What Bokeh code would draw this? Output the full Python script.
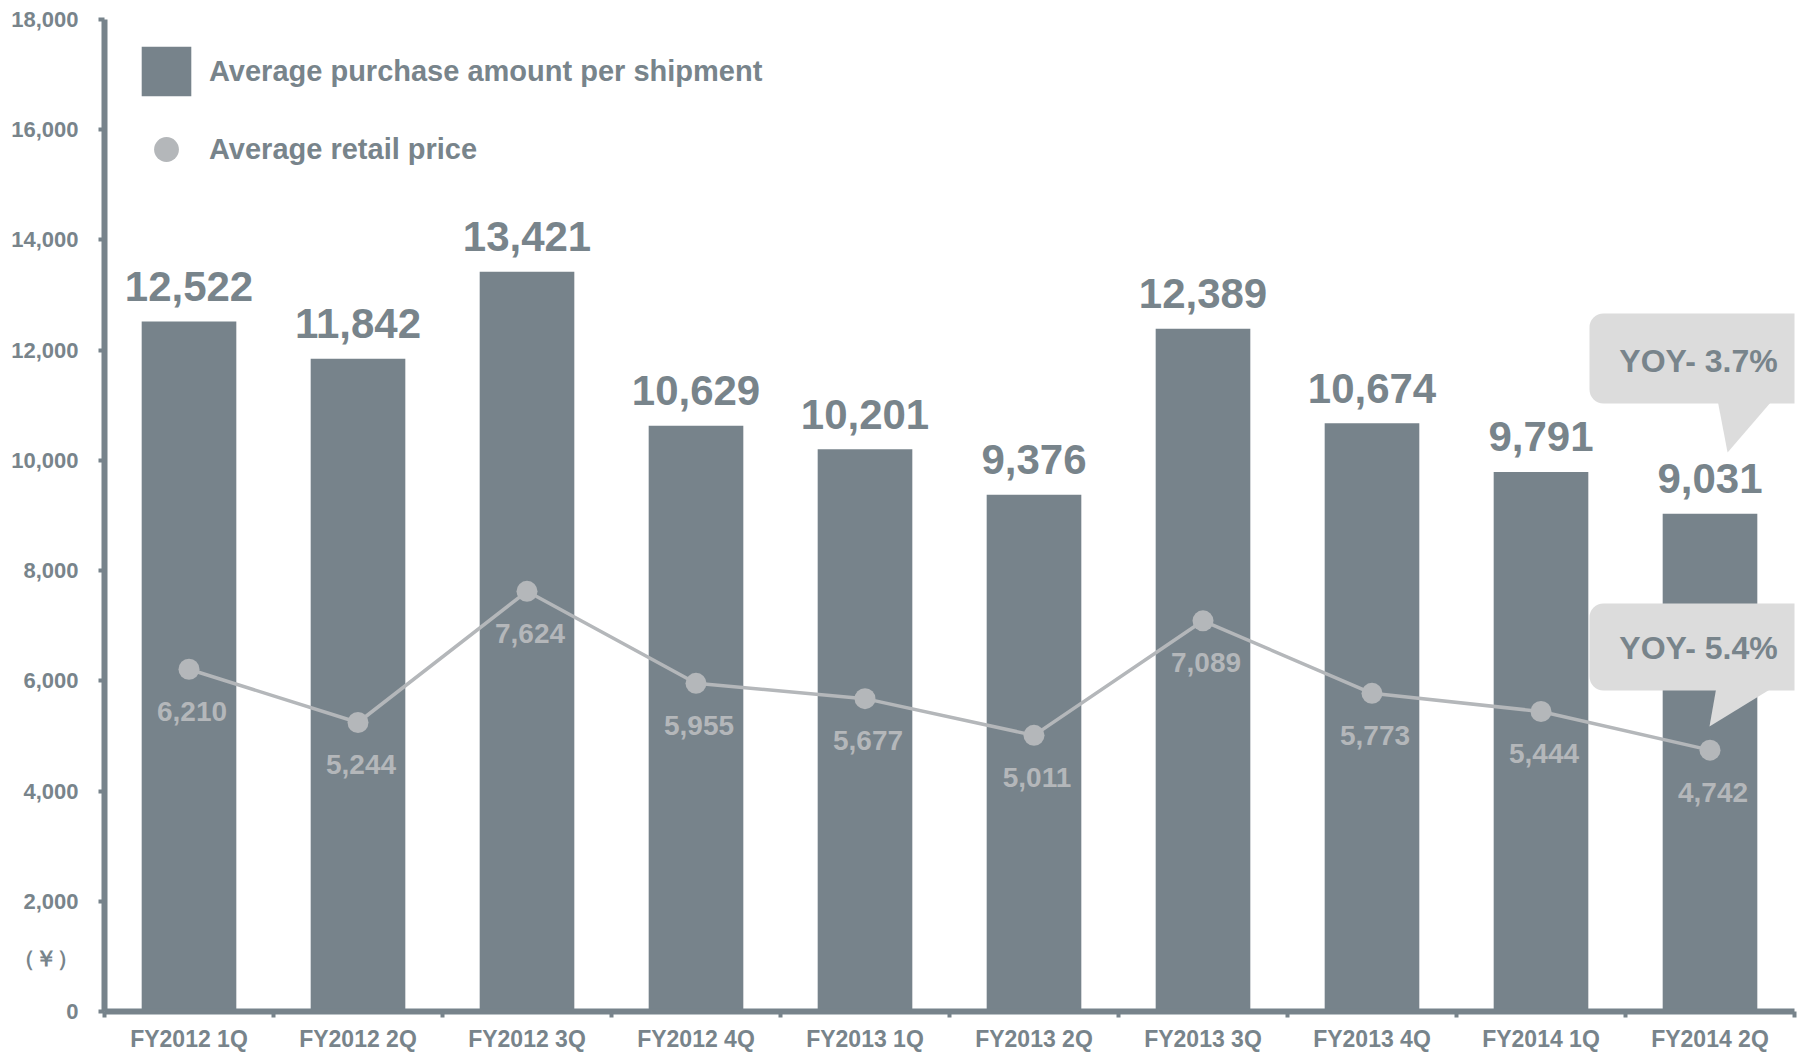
from bokeh.plotting import figure
from bokeh.models import (Range1d, FixedTicker, NumeralTickFormatter, Legend, LegendItem,
                          BoxAnnotation, Label, ColumnDataSource)
from bokeh.core.properties import value
from bokeh.embed import file_html
from bokeh.resources import INLINE

# ---- data ----
categories = ["FY2012 1Q", "FY2012 2Q", "FY2012 3Q", "FY2012 4Q", "FY2013 1Q",
              "FY2013 2Q", "FY2013 3Q", "FY2013 4Q", "FY2014 1Q", "FY2014 2Q"]
purchase_per_shipment = [12522, 11842, 13421, 10629, 10201, 9376, 12389, 10674, 9791, 9031]
retail_price = [6210, 5244, 7624, 5955, 5677, 5011, 7089, 5773, 5444, 4742]
y_ticks = [0, 2000, 4000, 6000, 8000, 10000, 12000, 14000, 16000, 18000]
unit_label = "（￥）"
unit_label_pos = 960
yoy_purchase = "YOY- 3.7%"
yoy_retail = "YOY- 5.4%"

# ---- style ----
BAR = "#77838b"
DOT = "#b4b7ba"
TXT = "#78848b"
CALL = "#dcdcdc"
FONT = "Liberation Sans"

xs = list(range(len(categories)))
src = ColumnDataSource(dict(
    x=xs, bar=purchase_per_shipment, ret=retail_price,
    bar_lbl=[f"{v:,}" for v in purchase_per_shipment],
    ret_lbl=[f"{v:,}" for v in retail_price],
))

p = figure(width=1800, height=1054, output_backend="svg", toolbar_location=None,
           x_range=Range1d(-0.5, len(categories) - 0.5), y_range=Range1d(0, 18000),
           min_border_left=104, min_border_right=6, min_border_top=19, min_border_bottom=43)
p.outline_line_color = None
p.grid.visible = False
p.background_fill_color = "white"

bars = p.vbar(x="x", top="bar", width=0.56, source=src, fill_color=BAR, line_color=None)
p.line(x="x", y="ret", source=src, line_color=DOT, line_width=3.5)
dots = p.scatter(x="x", y="ret", source=src, size=21, fill_color=DOT, line_color=None)

p.text(x="x", y="bar", text="bar_lbl", source=src, text_align="center",
       text_baseline="alphabetic", y_offset=-35, text_font=value(FONT),
       text_font_style="bold", text_font_size="42px", text_color=TXT)
p.text(x="x", y="ret", text="ret_lbl", source=src, text_align="center",
       text_baseline="alphabetic", y_offset=42, x_offset=3, text_font=value(FONT),
       text_font_style="bold", text_font_size="28px", text_color=DOT)

# axes
xa = p.xaxis[0]
xa.ticker = FixedTicker(ticks=xs, minor_ticks=[i - 0.5 for i in range(len(categories) + 1)])
xa.major_label_overrides = {i: c for i, c in enumerate(categories)}
xa.major_tick_out = 0
xa.major_tick_in = 0
xa.minor_tick_out = 6
xa.minor_tick_in = 0
xa.minor_tick_line_width = 4
xa.minor_tick_line_color = BAR
xa.axis_line_width = 6
xa.axis_line_color = BAR
xa.major_label_standoff = 8
xa.major_label_text_font = FONT
xa.major_label_text_font_style = "bold"
xa.major_label_text_font_size = "23px"
xa.major_label_text_color = TXT

ya = p.yaxis[0]
ya.ticker = FixedTicker(ticks=y_ticks + [unit_label_pos], minor_ticks=y_ticks)
ya.formatter = NumeralTickFormatter(format="0,0")
ya.major_label_overrides = {unit_label_pos: unit_label}
ya.major_tick_out = 0
ya.major_tick_in = 0
ya.minor_tick_out = 6
ya.minor_tick_in = 0
ya.minor_tick_line_width = 4
ya.minor_tick_line_color = BAR
ya.axis_line_width = 6
ya.axis_line_color = BAR
ya.major_label_standoff = 20
ya.major_label_text_font = FONT
ya.major_label_text_font_style = "bold"
ya.major_label_text_font_size = "22px"
ya.major_label_text_color = TXT

# legend
legend = Legend(items=[LegendItem(label="Average purchase amount per shipment", renderers=[bars]),
                       LegendItem(label="Average retail price", renderers=[dots])],
                location=(31, 831), glyph_width=62, glyph_height=62, label_height=62,
                spacing=16, padding=0, margin=0, label_standoff=12,
                label_text_font=FONT, label_text_font_style="bold",
                label_text_font_size="29px", label_text_color=TXT,
                background_fill_alpha=0, border_line_alpha=0)
p.add_layout(legend)

# callouts (anchored to last category)
last = xs[-1]
for (top, bottom, tipx, tipy, basex0, basex1, ty, txt) in [
        (12665, 11032, last + 0.104, 10143, last + 0.045, last + 0.370, 11812, yoy_purchase),
        (7403, 5825, last - 0.003, 5171, last + 0.038, last + 0.376, 6587, yoy_retail)]:
    p.add_layout(BoxAnnotation(left=last - 0.713, right=last + 0.8, top=top, bottom=bottom,
                               fill_color=CALL, fill_alpha=1, line_alpha=0, border_radius=14))
    p.patch([basex0, basex1, tipx], [bottom + 60, bottom + 60, tipy],
            fill_color=CALL, line_color=None)
    p.add_layout(Label(x=last - 0.068, y=ty, text=txt, text_align="center",
                       text_baseline="middle", text_font=FONT, text_font_style="bold",
                       text_font_size="32px", text_color=TXT))

open("out.html", "w").write(file_html(p, INLINE))
